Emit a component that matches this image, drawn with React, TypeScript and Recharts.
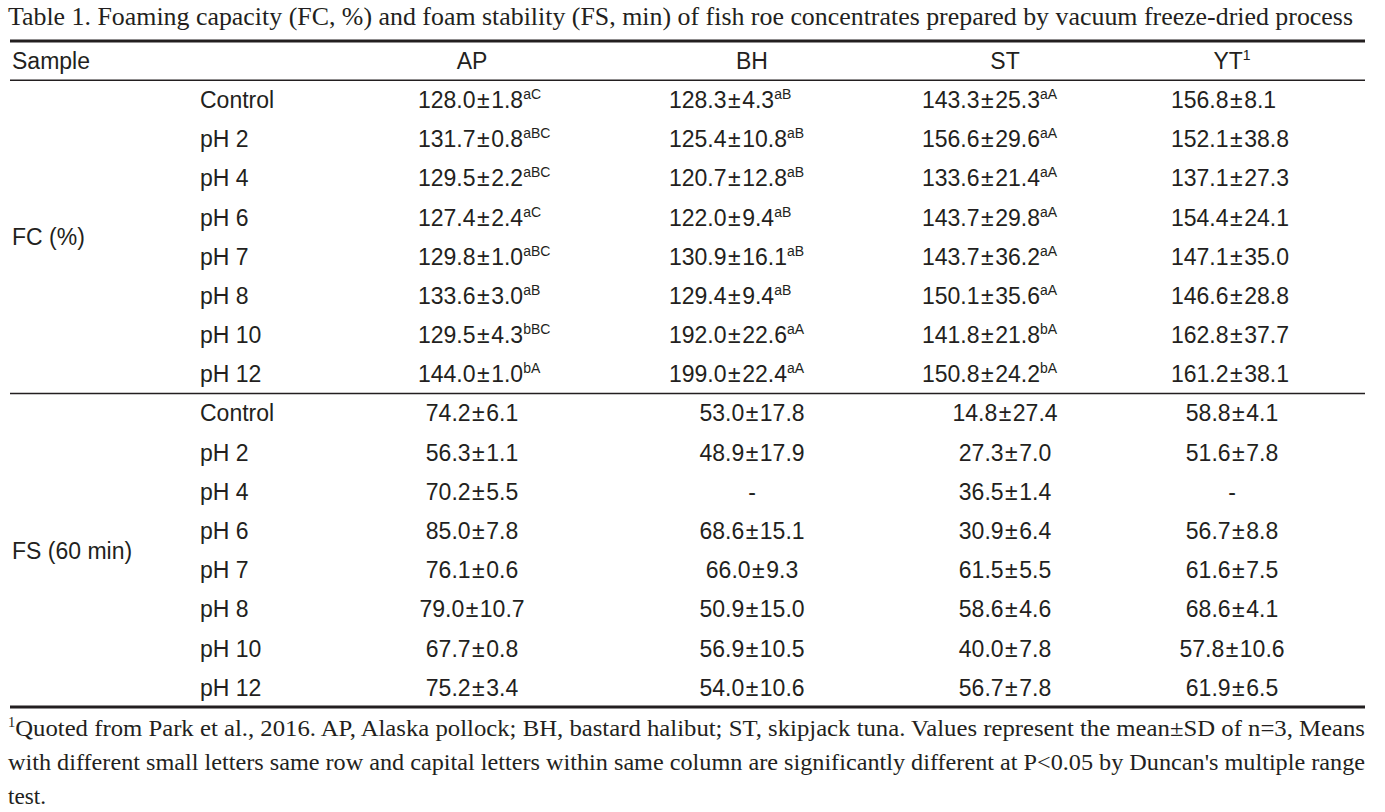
import React from "react";
import { ScatterChart, Scatter, XAxis, YAxis, ReferenceLine } from "recharts";

// ---------- data ----------
const SPECIES = ["AP", "BH", "ST", "YT"];
const SPECIES_SUP = ["", "", "", "1"];
const TREATMENTS = ["Control", "pH 2", "pH 4", "pH 6", "pH 7", "pH 8", "pH 10", "pH 12"];
const GROUPS = ["FC (%)", "FS (60 min)"];

// Foaming capacity (FC, %)
const FC_AP_MEAN = [128.0, 131.7, 129.5, 127.4, 129.8, 133.6, 129.5, 144.0];
const FC_AP_SD = [1.8, 0.8, 2.2, 2.4, 1.0, 3.0, 4.3, 1.0];
const FC_AP_SIG = ["aC", "aBC", "aBC", "aC", "aBC", "aB", "bBC", "bA"];
const FC_BH_MEAN = [128.3, 125.4, 120.7, 122.0, 130.9, 129.4, 192.0, 199.0];
const FC_BH_SD = [4.3, 10.8, 12.8, 9.4, 16.1, 9.4, 22.6, 22.4];
const FC_BH_SIG = ["aB", "aB", "aB", "aB", "aB", "aB", "aA", "aA"];
const FC_ST_MEAN = [143.3, 156.6, 133.6, 143.7, 143.7, 150.1, 141.8, 150.8];
const FC_ST_SD = [25.3, 29.6, 21.4, 29.8, 36.2, 35.6, 21.8, 24.2];
const FC_ST_SIG = ["aA", "aA", "aA", "aA", "aA", "aA", "bA", "bA"];
const FC_YT_MEAN = [156.8, 152.1, 137.1, 154.4, 147.1, 146.6, 162.8, 161.2];
const FC_YT_SD = [8.1, 38.8, 27.3, 24.1, 35.0, 28.8, 37.7, 38.1];
const FC_YT_SIG = ["", "", "", "", "", "", "", ""];

// Foam stability (FS, 60 min)
const FS_AP_MEAN = [74.2, 56.3, 70.2, 85.0, 76.1, 79.0, 67.7, 75.2];
const FS_AP_SD = [6.1, 1.1, 5.5, 7.8, 0.6, 10.7, 0.8, 3.4];
const FS_BH_MEAN = [53.0, 48.9, null, 68.6, 66.0, 50.9, 56.9, 54.0];
const FS_BH_SD = [17.8, 17.9, null, 15.1, 9.3, 15.0, 10.5, 10.6];
const FS_ST_MEAN = [14.8, 27.3, 36.5, 30.9, 61.5, 58.6, 40.0, 56.7];
const FS_ST_SD = [27.4, 7.0, 1.4, 6.4, 5.5, 4.6, 7.8, 7.8];
const FS_YT_MEAN = [58.8, 51.6, null, 56.7, 61.6, 68.6, 57.8, 61.9];
const FS_YT_SD = [4.1, 7.8, null, 8.8, 7.5, 4.1, 10.6, 6.5];

const TITLE =
  "Table 1. Foaming capacity (FC, %) and foam stability (FS, min) of fish roe concentrates prepared by vacuum freeze-dried process";
const FOOT_LINES = [
  "Quoted from Park et al., 2016. AP, Alaska pollock; BH, bastard halibut; ST, skipjack tuna. Values represent the mean\u00B1SD of n=3, Means",
  "with different small letters same row and capital letters within same column are significantly different at P<0.05 by Duncan's multiple range",
  "test.",
];

// ---------- layout (column anchors in axis units) ----------
const W = 1385;
const H = 812;
const MARGIN = { top: 41, right: 20, bottom: 105, left: 10 };
const X_DOMAIN = [0, W - MARGIN.left - MARGIN.right];
const LABEL_X = 2;
const SUB_X = 190;
const COL_X = [462, 742, 995, 1222]; // centred columns (header, FS)
const FC_START_X = [408, 659, 912, 1161]; // left edge of FC cells
const SANS = "'Liberation Sans', Arial, Helvetica, sans-serif";
const SERIF = "'Liberation Serif', 'Times New Roman', Times, serif";
const INK = "#231f20";

type Cell = {
  x: number;
  y: number;
  mean?: number | null;
  sd?: number | null;
  text?: string;
  sup?: string;
  anchor: "start" | "middle";
};

const fcCols = [
  [FC_AP_MEAN, FC_AP_SD, FC_AP_SIG],
  [FC_BH_MEAN, FC_BH_SD, FC_BH_SIG],
  [FC_ST_MEAN, FC_ST_SD, FC_ST_SIG],
  [FC_YT_MEAN, FC_YT_SD, FC_YT_SIG],
] as const;
const fsCols = [
  [FS_AP_MEAN, FS_AP_SD],
  [FS_BH_MEAN, FS_BH_SD],
  [FS_ST_MEAN, FS_ST_SD],
  [FS_YT_MEAN, FS_YT_SD],
] as const;

const n = TREATMENTS.length;

const labelCells: Cell[] = [
  { x: LABEL_X, y: 0, text: "Sample", anchor: "start" },
  { x: LABEL_X, y: (1 + n) / 2, text: GROUPS[0], anchor: "start" },
  { x: LABEL_X, y: n + (1 + n) / 2, text: GROUPS[1], anchor: "start" },
  ...TREATMENTS.map((t, i) => ({ x: SUB_X, y: 1 + i, text: t, anchor: "start" as const })),
  ...TREATMENTS.map((t, i) => ({ x: SUB_X, y: 1 + n + i, text: t, anchor: "start" as const })),
];

const headerCells: Cell[] = SPECIES.map((s, j) => ({
  x: COL_X[j],
  y: 0,
  text: s,
  sup: SPECIES_SUP[j],
  anchor: "middle",
}));

const fcCells: Cell[] = [];
fcCols.forEach((col, j) => {
  const [m, s, g] = col;
  m.forEach((v, i) =>
    fcCells.push({ x: FC_START_X[j], y: 1 + i, mean: v, sd: s[i], sup: g[i], anchor: "start" })
  );
});
const fsCells: Cell[] = [];
fsCols.forEach((col, j) => {
  const [m, s] = col;
  m.forEach((v, i) =>
    fsCells.push({ x: COL_X[j], y: 1 + n + i, mean: v, sd: s[i], sup: "", anchor: "middle" })
  );
});

const renderCell = (props: any) => {
  const { cx, cy, payload } = props;
  const c: Cell = payload;
  let body: React.ReactNode;
  if (c.text !== undefined) {
    body = c.text;
  } else if (c.mean === null || c.mean === undefined) {
    body = "-";
  } else {
    body = (
      <>
        <tspan>{c.mean.toFixed(1)}</tspan>
        <tspan dx={1.5}>{"\u00B1"}</tspan>
        <tspan dx={1.5}>{(c.sd as number).toFixed(1)}</tspan>
      </>
    );
  }
  return (
    <text
      x={cx}
      y={cy}
      dy="0.36em"
      textAnchor={c.anchor}
      fontFamily={SANS}
      fontSize={23}
      fill={INK}
    >
      {body}
      {c.sup ? (
        <tspan dy={-9} fontSize={14}>
          {c.sup}
        </tspan>
      ) : null}
    </text>
  );
};

export default function App() {
  return (
    <div style={{ position: "relative", width: W, height: H, background: "#fff" }}>
      <style>{`body{margin:0;background:#fff}`}</style>
      <div style={{ position: "absolute", left: 0, top: 0 }}>
        <ScatterChart width={W} height={H} margin={MARGIN}>
          <XAxis type="number" dataKey="x" domain={X_DOMAIN} hide />
          <YAxis type="number" dataKey="y" domain={[-0.5, 2 * n + 0.5]} reversed hide />
          <ReferenceLine y={-0.5} stroke={INK} strokeWidth={3} ifOverflow="visible" />
          <ReferenceLine y={0.5} stroke={INK} strokeWidth={1.5} ifOverflow="visible" />
          <ReferenceLine y={n + 0.5} stroke={INK} strokeWidth={1.5} ifOverflow="visible" />
          <ReferenceLine y={2 * n + 0.5} stroke={INK} strokeWidth={3} ifOverflow="visible" />
          <Scatter data={labelCells} shape={renderCell} isAnimationActive={false} />
          <Scatter data={headerCells} shape={renderCell} isAnimationActive={false} />
          <Scatter data={fcCells} shape={renderCell} isAnimationActive={false} />
          <Scatter data={fsCells} shape={renderCell} isAnimationActive={false} />
        </ScatterChart>
      </div>
      <svg
        width={W}
        height={H}
        style={{ position: "absolute", left: 0, top: 0, pointerEvents: "none" }}
      >
        <text
          x={8}
          y={25}
          fontFamily={SERIF}
          fontSize={26}
          fill={INK}
          textLength={1345}
          lengthAdjust="spacingAndGlyphs"
        >
          {TITLE}
        </text>
        {FOOT_LINES.map((line, i) => (
          <text
            key={i}
            x={8}
            y={736 + i * 34}
            fontFamily={SERIF}
            fontSize={24}
            fill={INK}
            textLength={i < 2 ? 1357 : 38}
            lengthAdjust="spacingAndGlyphs"
          >
            {i === 0 ? (
              <>
                <tspan fontSize={14} dy={-9}>
                  1
                </tspan>
                <tspan dy={9}>{line}</tspan>
              </>
            ) : (
              line
            )}
          </text>
        ))}
      </svg>
    </div>
  );
}
